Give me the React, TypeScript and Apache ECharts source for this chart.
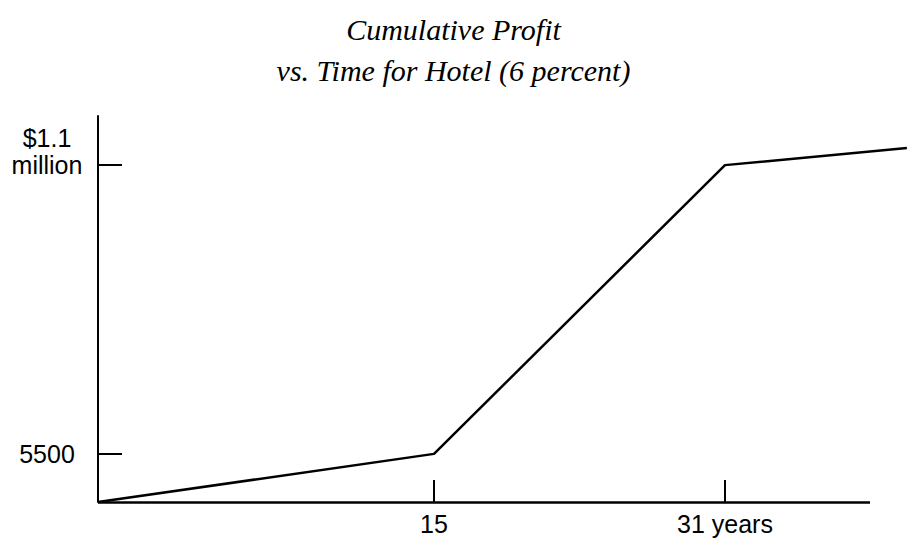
import React, { useEffect, useRef } from "react";
import * as echarts from "echarts";

// ---- Data ----
const years = [0, 15, 31, 41];
const profit = [0, 5500, 1100000, 1165000];

const xTickYears = [15, 31];
const xTickLabels = ["15", "31 years"];
const yTickValues = [5500, 1100000];
const yTickLabels = ["5500", "$1.1\nmillion\n "];

const titleLines = ["Cumulative Profit", "vs. Time for Hotel (6 percent)"];

// ---- Schematic (non-linear) axis scales of the original drawing ----
const xScaleYears = [0, 15, 31];
const xScaleUnits = [0, 336, 627];
const X_AXIS_END = 772; // where the drawn x-axis line stops
const yScaleValues = [0, 5500, 1100000];
const yScaleUnits = [0, 48, 336];
const Y_MAX = 385;

function interp(v: number, xs: number[], ys: number[]): number {
  let i = 0;
  while (i < xs.length - 2 && v > xs[i + 1]) i++;
  const t = (v - xs[i]) / (xs[i + 1] - xs[i]);
  return ys[i] + t * (ys[i + 1] - ys[i]);
}

const sx = (y: number) => interp(y, xScaleYears, xScaleUnits);
const sy = (v: number) => interp(v, yScaleValues, yScaleUnits);

export default function App() {
  const ref = useRef<HTMLDivElement>(null);
  useEffect(() => {
    if (!ref.current) return;
    const chart = echarts.init(ref.current, null, { renderer: "svg" });
    const xTickPos = xTickYears.map(sx);
    const yTickPos = yTickValues.map(sy);
    const xMax = sx(years[years.length - 1]);
    const xLabelFor = (v: number) => {
      const i = xTickPos.findIndex((p) => Math.abs(p - v) < 0.5);
      return i >= 0 ? xTickLabels[i] : "";
    };
    const yLabelFor = (v: number) => {
      const i = yTickPos.findIndex((p) => Math.abs(p - v) < 0.5);
      return i >= 0 ? yTickLabels[i] : "";
    };
    chart.setOption({
      animation: false,
      backgroundColor: "#ffffff",
      title: {
        text: titleLines.join("\n"),
        left: "center",
        top: 4,
        textStyle: {
          fontFamily: "Liberation Serif",
          fontStyle: "italic",
          fontWeight: "normal",
          fontSize: 30,
          lineHeight: 41,
          color: "#000",
        },
      },
      grid: { left: 98, top: 116, right: 907 - 98 - xMax, bottom: 38, containLabel: false },
      xAxis: {
        type: "value",
        min: 0,
        max: xMax,
        axisLine: { show: false },
        axisTick: { show: true, inside: true, length: 22, lineStyle: { color: "#000", width: 2 }, customValues: xTickPos },
        axisLabel: {
          customValues: xTickPos,
          formatter: (v: number) => xLabelFor(v),
          fontFamily: "Liberation Sans",
          fontSize: 25,
          color: "#000",
          margin: 9,
        },
        splitLine: { show: false },
      },
      yAxis: {
        type: "value",
        min: 0,
        max: Y_MAX,
        axisLine: { show: true, lineStyle: { color: "#000", width: 2 } },
        axisTick: { show: true, inside: true, length: 24, lineStyle: { color: "#000", width: 2 }, customValues: yTickPos },
        axisLabel: {
          customValues: yTickPos,
          formatter: (v: number) => yLabelFor(v),
          fontFamily: "Liberation Sans",
          fontSize: 25,
          lineHeight: 27,
          color: "#000",
          align: "center",
          margin: 51,
        },
        splitLine: { show: false },
      },
      series: [
        {
          type: "line",
          data: years.map((y, i) => [sx(y), sy(profit[i])]),
          symbol: "none",
          clip: false,
          lineStyle: { color: "#000", width: 2.5 },
          markLine: {
            silent: true,
            symbol: ["none", "none"],
            label: { show: false },
            lineStyle: { color: "#000", width: 2.5, type: "solid" },
            data: [[{ coord: [0, 0] }, { coord: [X_AXIS_END, 0] }]],
          },
        },
      ],
    });
    return () => chart.dispose();
  }, []);
  return <div ref={ref} style={{ width: 907, height: 540, position: "absolute", left: 0, top: 0 }} />;
}
